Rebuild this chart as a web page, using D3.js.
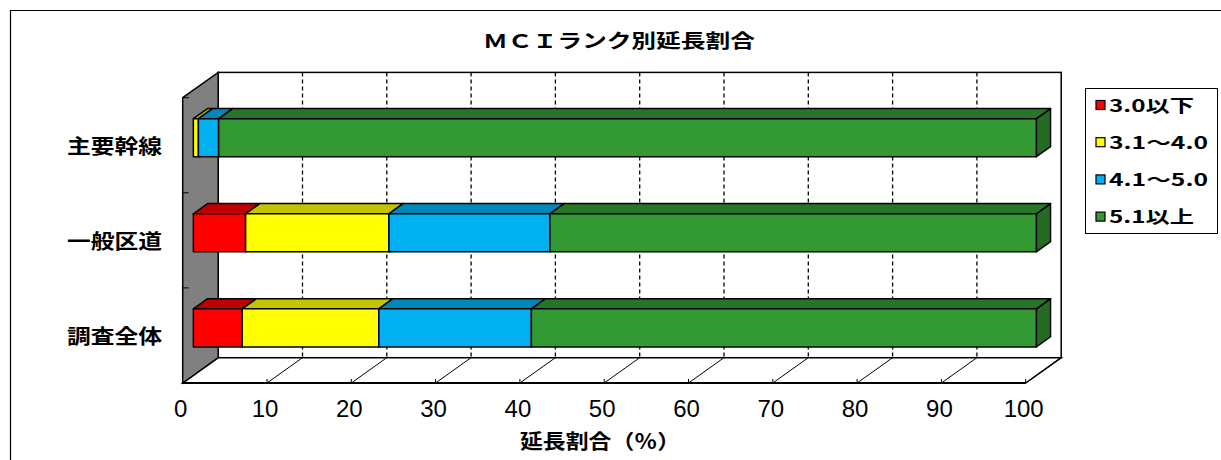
<!DOCTYPE html>
<html><head><meta charset="utf-8">
<script src="https://cdn.jsdelivr.net/npm/d3@7"></script>
<style>body{margin:0;background:#fff}svg{display:block}</style>
</head><body>
<script>
// ---- data ----
const categories = ["主要幹線", "一般区道", "調査全体"];
const seriesNames = ["3.0以下", "3.1～4.0", "4.1～5.0", "5.1以上"];
const s30below = [0.0, 6.2, 5.8];
const s31to40 = [0.6, 17.0, 16.2];
const s41to50 = [2.4, 19.1, 18.1];
const s51above = [97.0, 57.7, 59.9];
const tickValues = [0, 10, 20, 30, 40, 50, 60, 70, 80, 90, 100];
const chartTitle = "ＭＣＩランク別延長割合";
const xTitle = "延長割合（％）";

const series = [s30below, s31to40, s41to50, s51above];
const frontCol = ["#FF0000", "#FFFF00", "#00B0F0", "#339933"];
const topCol = ["#C00000", "#C4C400", "#0088BB", "#277527"];
const sideCol = ["#A00000", "#A8A800", "#0077A0", "#246B24"];

const W = 1221, H = 460;
const svg = d3.select("body").append("svg").attr("width", W).attr("height", H);

// outer chart border
svg.append("path").attr("d", `M10.5,${H + 5}V10.5H${W + 5}`).attr("fill", "none").attr("stroke", "#000").attr("stroke-width", 1.2);

const x = d3.scaleLinear().domain([0, 100]).range([182.7, 1025.7]);
const y = d3.scaleBand().domain(categories).range([97.7, 383]).paddingInner(0.6).paddingOuter(0.3);
const DX = 35.5, DY = 25.3;
const yT = 97.7, yB = 383;
const x0 = x(0), x100 = x(100);

// back wall
svg.append("rect").attr("x", x0 + DX).attr("y", yT - DY).attr("width", x100 - x0).attr("height", yB - yT)
  .attr("fill", "#fff").attr("stroke", "#000").attr("stroke-width", 1.5);
// floor
svg.append("polygon").attr("points", [[x0, yB], [x100, yB], [x100 + DX, yB - DY], [x0 + DX, yB - DY]].join(" "))
  .attr("fill", "#fff").attr("stroke", "#000").attr("stroke-width", 1.5);
// gridlines
tickValues.filter(v => v > 0 && v < 100).forEach(v => {
  svg.append("line").attr("x1", x(v) + DX).attr("x2", x(v) + DX).attr("y1", yT - DY).attr("y2", yB - DY)
    .attr("stroke", "#000").attr("stroke-width", 1.3).attr("stroke-dasharray", "4,3");
});
tickValues.filter(v => v > 0).forEach(v => {
  svg.append("line").attr("x1", x(v)).attr("x2", x(v) + DX).attr("y1", yB).attr("y2", yB - DY)
    .attr("stroke", "#000").attr("stroke-width", 1);
  svg.append("line").attr("x1", x(v)).attr("x2", x(v)).attr("y1", yB).attr("y2", yB - 4)
    .attr("stroke", "#000").attr("stroke-width", 1);
});
// front axis line
svg.append("line").attr("x1", x0).attr("x2", x100).attr("y1", yB).attr("y2", yB).attr("stroke", "#000").attr("stroke-width", 2);
// side wall
svg.append("polygon").attr("points", [[x0, yT], [x0 + DX, yT - DY], [x0 + DX, yB - DY], [x0, yB]].join(" "))
  .attr("fill", "#808080").attr("stroke", "#000").attr("stroke-width", 1.5);
// side wall ticks
const step = y.step();
[0, 1, 2, 3].forEach(i => {
  const yy = yT + (yB - yT) * i / 3;
  svg.append("line").attr("x1", x0).attr("x2", x0 + 6).attr("y1", yy).attr("y2", yy).attr("stroke", "#000").attr("stroke-width", 1);
});

// bars
const fD = 0.3, bD = 0.7;
categories.forEach((c, i) => {
  let cum = 0;
  const t = y(c), b = y(c) + y.bandwidth();
  series.forEach((s, j) => {
    const v = s[i];
    if (v <= 0) return;
    const xa = x(cum), xb = x(cum + v);
    cum += v;
    const g = svg.append("g").attr("stroke", "#000").attr("stroke-width", 1.5).attr("stroke-linejoin", "round");
    g.append("polygon").attr("points", [[xb + fD * DX, t - fD * DY], [xb + bD * DX, t - bD * DY], [xb + bD * DX, b - bD * DY], [xb + fD * DX, b - fD * DY]].join(" "))
      .attr("fill", sideCol[j]);
    g.append("polygon").attr("points", [[xa + fD * DX, t - fD * DY], [xb + fD * DX, t - fD * DY], [xb + bD * DX, t - bD * DY], [xa + bD * DX, t - bD * DY]].join(" "))
      .attr("fill", topCol[j]);
    g.append("rect").attr("x", xa + fD * DX).attr("y", t - fD * DY).attr("width", xb - xa).attr("height", b - t)
      .attr("fill", frontCol[j]);
  });
});

// category labels
categories.forEach(c => {
  svg.append("text").attr("x", 162).attr("y", y(c) + y.bandwidth() / 2 + 8.5)
    .attr("text-anchor", "end").attr("font-family", "Noto Sans CJK JP").attr("font-weight", "bold").attr("font-size", 20)
    .attr("textLength", 95).attr("lengthAdjust", "spacingAndGlyphs").text(c);
});
// tick labels
tickValues.forEach(v => {
  svg.append("text").attr("x", x(v) - 2).attr("y", 417).attr("text-anchor", "middle")
    .attr("font-family", "Liberation Sans, Arial").attr("font-size", 24).attr("fill", "#000").text(v);
});
// axis title
svg.append("text").attr("x", 600).attr("y", 448.5).attr("text-anchor", "middle")
  .attr("font-family", "Noto Sans CJK JP").attr("font-weight", "bold").attr("font-size", 20)
  .attr("textLength", 160).attr("lengthAdjust", "spacingAndGlyphs").text(xTitle);
// chart title
svg.append("text").attr("x", 619).attr("y", 47.5).attr("text-anchor", "middle")
  .attr("font-family", "Noto Sans CJK JP").attr("font-weight", "bold").attr("font-size", 19)
  .attr("textLength", 272).attr("lengthAdjust", "spacingAndGlyphs").text(chartTitle);

// legend
const lg = svg.append("g");
lg.append("rect").attr("x", 1085.5).attr("y", 88.5).attr("width", 132).attr("height", 145)
  .attr("fill", "#fff").attr("stroke", "#000").attr("stroke-width", 1);
const legW = [85, 99, 99, 85];
seriesNames.forEach((n, j) => {
  const cy = 105 + 37.2 * j;
  lg.append("rect").attr("x", 1096).attr("y", cy - 4.5).attr("width", 9).attr("height", 9)
    .attr("fill", frontCol[j]).attr("stroke", "#000").attr("stroke-width", 1.2);
  lg.append("text").attr("x", 1109).attr("y", cy + 6.5).attr("font-family", "Noto Sans CJK JP").attr("font-weight", "bold")
    .attr("font-size", 17).attr("textLength", legW[j]).attr("lengthAdjust", "spacingAndGlyphs").text(n);
});
</script>
</body></html>
